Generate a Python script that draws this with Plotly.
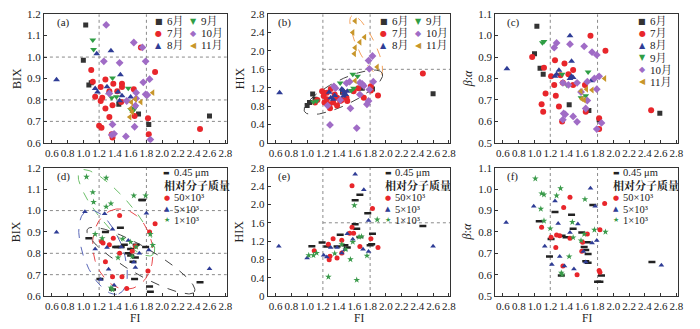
import numpy as np
import plotly.graph_objects as go

W, H = 700, 329

# ---------------- (a) FI vs BIX, by month ----------------
a_jun_fi = [1.03, 1.00, 1.07, 1.10, 1.45, 1.70, 1.83, 2.60]
a_jun_y = [1.15, 0.985, 0.87, 0.88, 0.78, 0.735, 0.685, 0.725]
a_jul_fi = [1.10, 1.12, 1.15, 1.22, 1.22, 1.24, 1.28, 1.28, 1.20, 1.23, 1.33, 1.37, 1.38, 1.33,
            1.43, 1.49, 1.49, 1.48, 1.37, 1.36, 1.64, 1.65, 1.73, 1.82, 1.83, 1.91, 2.48]
a_jul_y = [0.94, 0.885, 0.815, 0.86, 0.795, 0.81, 0.895, 0.76, 0.68, 0.67, 0.72, 0.775, 0.875, 0.84,
           0.84, 0.875, 0.86, 0.79, 0.625, 0.64, 0.85, 0.725, 1.045, 0.715, 0.64, 0.93, 0.665]
a_aug_fi = [0.66, 1.17, 1.35, 1.15, 1.18, 1.30, 1.32, 1.47, 1.44, 1.46, 1.49, 1.60]
a_aug_y = [0.894, 1.015, 1.03, 0.853, 0.837, 0.861, 0.834, 0.917, 0.837, 0.796, 0.82, 0.814]
a_sep_fi = [1.12, 1.13, 1.37, 1.36, 1.42, 1.57, 1.60, 1.63, 1.65]
a_sep_y = [1.08, 1.035, 0.902, 0.81, 0.815, 0.855, 0.755, 0.75, 0.76]
a_oct_fi = [1.29, 1.64, 1.75, 1.26, 1.46, 1.79, 1.84, 1.76, 1.33, 1.55, 1.67, 1.67, 1.66, 1.79,
            1.81, 1.37, 1.65, 1.36, 1.39, 1.54, 1.85]
a_oct_y = [1.15, 1.068, 1.045, 0.98, 0.973, 0.98, 0.897, 0.882, 0.83, 0.795, 0.834, 0.807, 0.773, 0.826,
           0.823, 0.686, 0.675, 0.637, 0.642, 0.63, 0.615]
a_nov_fi = [1.88, 1.61, 1.66, 1.73, 1.59, 1.62, 1.60]
a_nov_y = [0.834, 0.789, 0.803, 0.79, 0.72, 0.743, 0.76]

# ---------------- (b) FI vs HIX, by month ----------------
b_jun_fi = [1.03, 1.00, 1.07, 1.10, 1.45, 1.70, 1.83, 2.60]
b_jun_y = [0.88, 0.81, 1.06, 0.95, 1.10, 1.19, 1.17, 1.07]
b_jul_fi = [1.10, 1.13, 1.19, 1.21, 1.22, 1.25, 1.28, 1.29, 1.33, 1.35, 1.38, 1.42, 1.38, 1.44,
            1.47, 1.50, 1.51, 1.59, 1.65, 1.72, 1.81, 1.81, 1.90, 2.47, 1.25, 1.30]
b_jul_y = [0.88, 0.93, 1.12, 1.02, 0.88, 0.95, 0.84, 0.75, 0.88, 1.05, 0.98, 0.91, 0.81, 0.93,
           1.09, 0.98, 0.91, 1.12, 1.19, 0.98, 1.23, 1.14, 1.03, 1.51, 1.09, 1.17]
b_aug_fi = [0.65, 1.28, 1.30, 1.33, 1.35, 1.44, 1.46, 1.47, 1.49, 1.46, 1.51]
b_aug_y = [1.09, 1.10, 0.98, 0.95, 1.03, 1.17, 1.14, 1.09, 1.05, 1.02, 1.12]
b_sep_fi = [1.12, 1.08, 1.42, 1.58, 1.64, 1.56, 1.59]
b_sep_y = [0.91, 0.89, 1.30, 1.49, 1.45, 1.14, 1.19]
b_oct_fi = [1.29, 1.63, 1.26, 1.34, 1.36, 1.50, 1.54, 1.67, 1.70, 1.72, 1.79, 1.67, 1.78, 1.76,
            1.55, 1.42, 1.78, 1.83, 1.79, 1.84]
b_oct_y = [0.39, 0.32, 0.81, 1.23, 1.19, 1.30, 1.33, 1.31, 1.28, 1.24, 1.16, 1.05, 0.91, 0.84,
           0.75, 0.93, 1.79, 1.89, 1.61, 1.33]
b_nov_fi = [1.61, 1.58, 1.73, 1.67, 1.61, 1.60, 1.89, 1.61]
b_nov_y = [2.65, 2.40, 2.30, 2.19, 2.07, 1.94, 1.65, 1.35]

# ---------------- (c) FI vs beta:alpha, by month ----------------
c_jun_fi = [1.03, 1.00, 1.07, 1.11, 1.44, 1.69, 1.82, 2.59]
c_jun_y = [1.044, 0.916, 0.848, 0.82, 0.677, 0.651, 0.608, 0.638]
c_jul_fi = [0.97, 1.12, 1.14, 1.09, 1.11, 1.21, 1.26, 1.27, 1.31, 1.35, 1.38, 1.43, 1.49, 1.49,
            1.36, 1.71, 1.64, 1.65, 1.82, 1.82, 1.90, 2.48, 1.25, 1.33]
c_jul_y = [0.90, 0.85, 0.73, 0.68, 0.645, 0.81, 0.885, 0.72, 0.67, 0.60, 0.87, 0.82, 0.84, 0.77,
           0.78, 1.00, 0.77, 0.645, 0.615, 0.564, 0.93, 0.652, 0.77, 0.815]
c_aug_fi = [0.65, 1.45, 1.47, 1.28, 1.31, 1.26, 1.45, 1.47, 1.49, 1.72]
c_aug_y = [0.845, 1.00, 0.88, 0.82, 0.838, 0.81, 0.80, 0.81, 0.805, 0.79]
c_sep_fi = [1.10, 1.12, 1.35, 1.41, 1.68, 1.59, 1.65]
c_sep_y = [0.967, 0.973, 0.82, 0.77, 0.83, 0.71, 0.72]
c_oct_fi = [1.28, 1.25, 1.45, 1.63, 1.73, 1.79, 1.82, 1.76, 1.79, 1.67, 1.54, 1.36, 1.43, 1.65,
            1.67, 1.59, 1.49, 1.54, 1.37, 1.39, 1.36, 1.85, 1.79]
c_oct_y = [0.966, 0.944, 0.96, 0.95, 0.923, 0.91, 0.81, 0.80, 0.75, 0.785, 0.78, 0.78, 0.77, 0.66,
           0.697, 0.737, 0.623, 0.598, 0.637, 0.633, 0.608, 0.593, 0.564]
c_nov_fi = [1.89, 1.59, 1.66, 1.73, 1.60, 1.63]
c_nov_y = [0.80, 0.74, 0.75, 0.746, 0.705, 0.70]

# ---------------- (d) FI vs BIX, by size fraction ----------------
d_um_fi = [1.07, 1.28, 1.47, 1.43, 1.41, 1.48, 1.52, 1.60, 1.67, 1.79, 1.60, 1.63, 1.66, 1.74,
           1.75, 1.21, 1.65, 1.84, 1.85, 1.37, 2.48, 1.57]
d_um_y = [0.87, 0.90, 0.92, 0.83, 0.83, 0.83, 0.84, 0.82, 0.84, 0.83, 0.79, 0.76, 0.78, 1.05,
          1.05, 0.68, 0.68, 0.645, 0.62, 0.63, 0.665, 0.80]
d_k50_fi = [1.23, 1.28, 1.38, 1.46, 1.46, 1.33, 1.49, 1.55, 1.82, 1.84, 1.91, 1.62, 1.66, 1.25, 1.37]
d_k50_y = [0.855, 0.76, 0.87, 0.977, 0.80, 0.84, 0.69, 0.635, 0.717, 0.90, 0.938, 0.81, 0.833, 0.848, 0.69]
d_k5_fi = [0.66, 1.02, 1.27, 1.80, 1.37, 1.15, 1.30, 1.32, 1.39, 1.22, 1.64, 1.66, 1.71, 1.57,
           1.83, 2.60, 1.48]
d_k5_y = [0.898, 0.995, 0.985, 0.988, 0.913, 0.82, 0.827, 0.725, 0.65, 0.677, 0.758, 0.733, 0.80,
          0.86, 0.815, 0.728, 0.83]
d_k1_fi = [1.04, 1.29, 1.12, 1.13, 1.29, 1.35, 1.64, 1.79, 1.15, 1.24, 1.50, 1.60, 1.67, 1.44,
           1.35, 1.37, 1.85, 1.88, 1.62]
d_k1_y = [1.158, 1.153, 1.086, 1.04, 1.018, 1.033, 1.07, 1.07, 0.89, 0.87, 0.868, 0.853, 0.83, 0.78,
          0.638, 0.63, 0.89, 0.838, 0.785]

# ---------------- (e) FI vs HIX, by size fraction ----------------
e_um_fi = [1.06, 1.19, 1.25, 1.42, 1.48, 1.61, 1.63, 1.61, 1.67, 1.77, 1.83, 1.80, 1.82, 2.47,
           1.38, 1.67, 1.51]
e_um_y = [1.09, 1.17, 1.08, 1.34, 1.11, 1.57, 1.47, 2.09, 2.21, 1.81, 1.36, 1.11, 1.13, 1.53,
          1.08, 1.29, 1.06]
e_k50_fi = [1.57, 1.83, 1.57, 1.59, 1.54, 1.44, 1.27, 1.09, 1.29, 1.28, 1.38, 1.44, 1.67, 1.81, 1.90, 1.33]
e_k50_y = [2.41, 1.91, 1.50, 1.37, 1.37, 1.22, 1.13, 0.99, 0.87, 0.79, 0.83, 0.94, 1.08, 1.25, 1.06, 1.25]
e_k5_fi = [0.64, 1.00, 1.21, 1.25, 1.30, 1.38, 1.44, 1.61, 1.72, 1.78, 1.78, 1.51, 1.58, 1.71, 2.60, 1.48]
e_k5_y = [1.09, 0.83, 0.89, 0.85, 1.06, 1.06, 0.94, 2.66, 2.32, 1.65, 0.97, 1.36, 1.24, 1.02, 1.09, 1.01]
e_k1_fi = [1.02, 1.08, 1.12, 1.27, 1.63, 1.55, 1.60, 1.89, 1.44, 1.49, 1.58, 1.66, 1.69, 1.76, 1.35]
e_k1_y = [0.89, 0.89, 0.94, 0.42, 0.35, 0.80, 1.98, 1.67, 1.13, 1.02, 1.18, 1.29, 1.30, 0.88, 0.93]

# ---------------- (f) FI vs beta:alpha, by size fraction ----------------
f_um_fi = [1.06, 1.26, 1.19, 1.21, 1.35, 1.40, 1.47, 1.49, 1.60, 1.63, 1.65, 1.65, 1.68, 1.67,
           1.68, 1.74, 1.80, 1.83, 1.85, 1.34, 2.49]
f_um_y = [0.85, 0.893, 0.685, 0.767, 0.782, 0.775, 0.88, 0.815, 0.797, 0.73, 0.715, 0.663, 0.656, 0.752,
          0.697, 0.926, 0.567, 0.567, 0.596, 0.596, 0.659]
f_k50_fi = [1.09, 1.21, 1.27, 1.28, 1.32, 1.37, 1.45, 1.60, 1.61, 1.67, 1.83, 1.89, 1.82, 1.83,
            1.54, 1.36, 1.45]
f_k50_y = [0.822, 0.775, 0.727, 0.786, 0.782, 0.915, 0.963, 0.71, 0.752, 0.79, 0.81, 0.933, 0.619, 0.611,
           0.60, 0.641, 0.77]
f_k5_fi = [0.64, 0.99, 1.13, 1.22, 1.26, 1.30, 1.32, 1.38, 1.45, 1.50, 1.55, 1.62, 1.65, 1.71,
           1.73, 1.77, 1.79, 2.61]
f_k5_y = [0.844, 0.92, 0.733, 0.648, 0.945, 0.84, 0.685, 0.641, 0.797, 0.626, 0.837, 0.708, 0.659, 1.005,
          0.748, 0.92, 0.76, 0.644]
f_k1_fi = [1.01, 1.09, 1.12, 1.08, 1.12, 1.20, 1.28, 1.33, 1.44, 1.34, 1.35, 1.48, 1.64, 1.49,
           1.63, 1.76, 1.90, 1.59]
f_k1_y = [1.05, 0.98, 0.975, 0.908, 0.852, 0.816, 0.97, 1.004, 0.685, 0.608, 0.60, 0.846, 0.953, 0.774,
          0.79, 0.81, 0.80, 0.76]

# ---------------- labels ----------------
month_names = ["6月", "7月", "8月", "9月", "10月", "11月"]
fraction_names = ["0.45 μm", "50×10³", "5×10³", "1×10³"]
fraction_header = "相对分子质量"
fi_ticks = [0.6, 0.8, 1.0, 1.2, 1.4, 1.6, 1.8, 2.0, 2.2, 2.4, 2.6, 2.8]
bix_ticks = [0.6, 0.7, 0.8, 0.9, 1.0, 1.1, 1.2]
hix_ticks = [0, 0.4, 0.8, 1.2, 1.6, 2.0, 2.4, 2.8]
ba_ticks = [0.5, 0.6, 0.7, 0.8, 0.9, 1.0, 1.1]

# ---------------- styles ----------------
SERIF = "Liberation Serif, Noto Serif CJK SC, Noto Sans CJK SC"
month_style = [
    dict(symbol="square", size=5, color="#333333"),
    dict(symbol="circle", size=6, color="#e8262b"),
    dict(symbol="triangle-up", size=6, color="#2f3d96"),
    dict(symbol="triangle-down", size=6, color="#2f9e44"),
    dict(symbol="diamond", size=6, color="#a06cc6"),
    dict(symbol="triangle-left", size=6, color="#c8962a"),
]
month_glyph = ["■", "●", "▲", "▼", "◆", "◀"]
frac_style = [
    dict(symbol="line-ew", size=5, color="#222222", line=dict(width=2.5, color="#222222")),
    dict(symbol="circle", size=5, color="#e8262b"),
    dict(symbol="triangle-up", size=5, color="#2f3d96"),
    dict(symbol="star", size=5, color="#3a9a4a"),
]
frac_glyph = ["▬", "●", "▲", "★"]
frac_color = ["#222222", "#e8262b", "#2f3d96", "#3a9a4a"]

# panel geometry in pixels
col_px = [(44.3, 228.8), (270.1, 454.3), (499.4, 683.8)]
row_px = [(8.5, 142.0), (168.0, 301.0)]
XR = [0.5, 2.82]
yranges = [[0.6, 1.2], [0, 2.8], [0.5, 1.1]]
yticks = [bix_ticks, hix_ticks, ba_ticks]
ytext = [[f"{v:.1f}" for v in bix_ticks],
         ["0"] + [f"{v:.1f}" for v in hix_ticks[1:]],
         [f"{v:.1f}" for v in ba_ticks]]

fig = go.Figure()
layout = dict(width=W, height=H, margin=dict(l=0, r=0, t=0, b=0),
              paper_bgcolor="white", plot_bgcolor="white", showlegend=False)

tickfont = dict(family=SERIF, size=11, color="#222")
for r in range(2):
    for c in range(3):
        k = r * 3 + c + 1
        sfx = "" if k == 1 else str(k)
        x0, x1 = col_px[c]
        yt, yb = row_px[r]
        common = dict(ticks="inside", ticklen=3, tickcolor="#333", showline=True,
                      linecolor="#333", linewidth=1, mirror=True, showgrid=False,
                      zeroline=False, tickfont=tickfont, tickangle=0)
        layout["xaxis" + sfx] = dict(domain=[x0 / W, x1 / W], range=XR, tickvals=fi_ticks,
                                     ticktext=[f"{v:.1f}" for v in fi_ticks],
                                     anchor="y" + sfx, **common)
        layout["yaxis" + sfx] = dict(domain=[1 - yb / H, 1 - yt / H], range=yranges[c],
                                     tickvals=yticks[c], ticktext=ytext[c],
                                     anchor="x" + sfx, **common)

def ax(k):
    return ("x" if k == 1 else f"x{k}"), ("y" if k == 1 else f"y{k}")

def add_points(k, xs, ys, style, name):
    xa, ya = ax(k)
    st = dict(style)
    line = st.pop("line", dict(width=0))
    fig.add_trace(go.Scatter(x=xs, y=ys, mode="markers", name=name, xaxis=xa, yaxis=ya,
                             marker=dict(**st, line=line), hoverinfo="x+y"))

month_sets = {
    1: [(a_jun_fi, a_jun_y), (a_jul_fi, a_jul_y), (a_aug_fi, a_aug_y),
        (a_sep_fi, a_sep_y), (a_oct_fi, a_oct_y), (a_nov_fi, a_nov_y)],
    2: [(b_jun_fi, b_jun_y), (b_jul_fi, b_jul_y), (b_aug_fi, b_aug_y),
        (b_sep_fi, b_sep_y), (b_oct_fi, b_oct_y), (b_nov_fi, b_nov_y)],
    3: [(c_jun_fi, c_jun_y), (c_jul_fi, c_jul_y), (c_aug_fi, c_aug_y),
        (c_sep_fi, c_sep_y), (c_oct_fi, c_oct_y), (c_nov_fi, c_nov_y)],
}
frac_sets = {
    4: [(d_um_fi, d_um_y), (d_k50_fi, d_k50_y), (d_k5_fi, d_k5_y), (d_k1_fi, d_k1_y)],
    5: [(e_um_fi, e_um_y), (e_k50_fi, e_k50_y), (e_k5_fi, e_k5_y), (e_k1_fi, e_k1_y)],
    6: [(f_um_fi, f_um_y), (f_k50_fi, f_k50_y), (f_k5_fi, f_k5_y), (f_k1_fi, f_k1_y)],
}

# dotted reference lines
shapes = []
def vline(k, xv, y0, y1):
    xa, ya = ax(k)
    shapes.append(dict(type="line", xref=xa, yref=ya, x0=xv, x1=xv, y0=y0, y1=y1,
                       line=dict(color="#8a8a8a", width=1, dash="dot"), layer="below"))
def hline(k, yv, x0, x1):
    xa, ya = ax(k)
    shapes.append(dict(type="line", xref=xa, yref=ya, x0=x0, x1=x1, y0=yv, y1=yv,
                       line=dict(color="#8a8a8a", width=1, dash="dot"), layer="below"))

for k in (1, 4):
    for v in (1.2, 1.8):
        vline(k, v, 0.6, 1.2)
    for v in (1.0, 0.8, 0.7):
        hline(k, v, XR[0], XR[1])
for k in (2, 5):
    for v in (1.2, 1.8):
        vline(k, v, 0, 2.8)
    hline(k, 1.6, 1.2, XR[1])
for k in (3, 6):
    for v in (1.2, 1.8):
        vline(k, v, 0.5, 1.1)

# dashed grouping ellipses: centre (data), semi-axes (px), tilt (deg, on screen)
def px_scale(k):
    c = (k - 1) % 3
    r = (k - 1) // 3
    sx = (col_px[c][1] - col_px[c][0]) / (XR[1] - XR[0])
    yr = yranges[c]
    sy = (row_px[r][1] - row_px[r][0]) / (yr[1] - yr[0])
    return sx, sy

def ellipse(k, cx, cy, a, b, ang, color):
    sx, sy = px_scale(k)
    t = np.linspace(0, 2 * np.pi, 160)
    ca, sa = np.cos(np.radians(ang)), np.sin(np.radians(ang))
    ex = a * np.cos(t) * ca - b * np.sin(t) * sa
    ey = a * np.cos(t) * sa + b * np.sin(t) * ca
    xa, ya = ax(k)
    fig.add_trace(go.Scatter(x=cx + ex / sx, y=cy + ey / sy, mode="lines", xaxis=xa, yaxis=ya,
                             line=dict(color=color, width=1, dash="dash"), hoverinfo="skip"))

ellipse(2, 1.75, 2.12, 34, 9, 115, "#f3a25c")
ellipse(2, 1.46, 1.10, 44, 13, 27, "#444444")
ellipse(4, 1.42, 0.99, 57, 16, -50, "#6cbf6a")
ellipse(4, 1.50, 0.82, 42, 30, 100, "#e8474a")
ellipse(4, 1.25, 0.805, 46, 20, -70, "#5a68b8")
ellipse(4, 1.73, 0.766, 63, 14, -31, "#444444")

for k, sets in month_sets.items():
    for i, (xs, ys) in enumerate(sets):
        add_points(k, xs, ys, month_style[i], month_names[i])
for k, sets in frac_sets.items():
    for i, (xs, ys) in enumerate(sets):
        add_points(k, xs, ys, frac_style[i], fraction_names[i])

# ---------------- annotations ----------------
ann = []
def text(px, py, s, size=11, xanchor="left", color="#222", family=SERIF, angle=0):
    ann.append(dict(x=px / W, y=1 - py / H, xref="paper", yref="paper", text=s, showarrow=False,
                    xanchor=xanchor, yanchor="middle", textangle=angle,
                    font=dict(family=family, size=size, color=color)))

GLYPH = "DejaVu Sans"
# panel tags
for s, (px, py) in zip(["(a)", "(b)", "(c)", "(d)", "(e)", "(f)"],
                       [(55, 17), (278, 17), (509, 17), (55, 177), (278, 177), (509, 177)]):
    text(px, py, s, size=11)

# month legends in (a), (b): two columns of three
for base_x in (160, 387):
    for i in range(6):
        col, row = divmod(i, 3)
        mx = base_x + col * 35
        my = 15.7 + row * 12.5
        text(mx, my, month_glyph[i], size=8, xanchor="center",
             color=month_style[i]["color"], family=GLYPH)
        text(mx + 6, my, month_names[i], size=11)
# month legend in (c): one column
for i in range(6):
    my = 15.7 + i * 12.6
    text(648, my, month_glyph[i], size=8, xanchor="center",
         color=month_style[i]["color"], family=GLYPH)
    text(654, my, month_names[i], size=11)

# size-fraction legends in (d), (e), (f)
for mx, hx in ((168, 163), (391.5, 386.5), (621.5, 616.5)):
    rows = [173.3, 199.0, 210.7, 222.5]
    for i in range(4):
        text(mx, rows[i], frac_glyph[i], size=7, xanchor="center", color=frac_color[i], family=GLYPH)
        text(mx + 5, rows[i], fraction_names[i], size=10.5)
    text(hx, 186.3, "<b>" + fraction_header + "</b>", size=11)

# axis titles
text(17, 75, "BIX", size=12, xanchor="center", angle=-90)
text(17, 234, "BIX", size=12, xanchor="center", angle=-90)
text(242, 75, "HIX", size=12, xanchor="center", angle=-90)
text(242, 234, "HIX", size=12, xanchor="center", angle=-90)
text(472, 75, "<i>β</i>:<i>α</i>", size=12, xanchor="center", angle=-90)
text(472, 234, "<i>β</i>:<i>α</i>", size=12, xanchor="center", angle=-90)
for cx in (136.5, 362.2, 591.6):
    text(cx, 323.5, "FI", size=11.5, xanchor="center")

layout["annotations"] = ann
layout["shapes"] = shapes
fig.update_layout(**layout)
fig.write_html("out.html")
